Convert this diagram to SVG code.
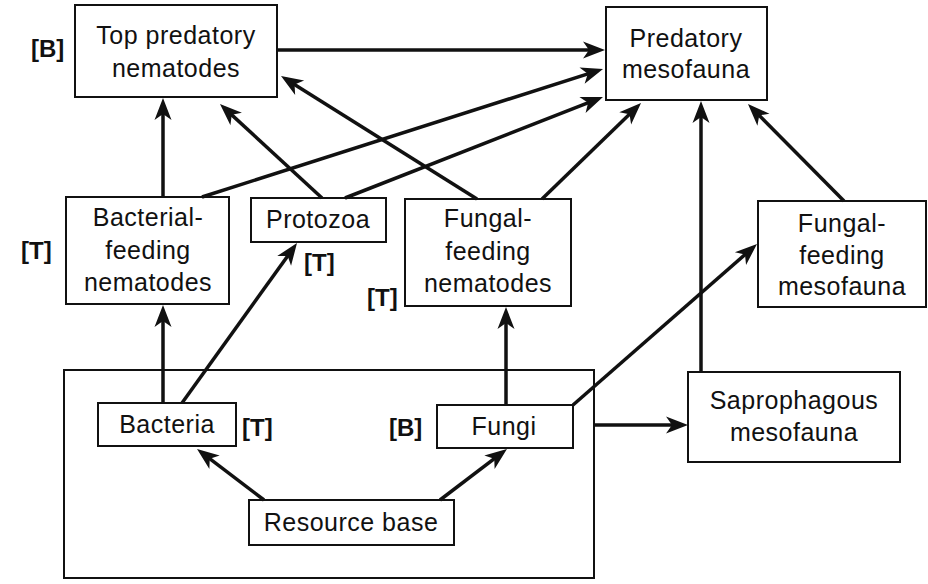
<svg xmlns="http://www.w3.org/2000/svg" width="928" height="584" viewBox="0 0 928 584">
<defs>
<marker id="ah" markerUnits="userSpaceOnUse" viewBox="-24 -10 26 20" refX="-6" refY="0" markerWidth="26" markerHeight="20" orient="auto">
<path d="M0,0 L-22,-8.5 L-16,0 L-22,8.5 Z" fill="#111"/>
</marker>
</defs>
<style>
.box{fill:#fff;stroke:#111;stroke-width:2}
.lbl{font-family:"Liberation Sans",Arial,sans-serif;font-size:25px;letter-spacing:0.5px;fill:#111;text-anchor:middle}
.tag{font-family:"Liberation Sans",Arial,sans-serif;font-size:24px;font-weight:bold;fill:#111}
.c line{stroke:#111;stroke-width:3.5;marker-end:url(#ah)}
</style>
<rect width="928" height="584" fill="#fff"/>
<g id="resource-compartment"><rect class="box" x="64" y="370" width="530" height="208" fill="none"/></g>
<g id="top-predatory-nematodes">
<rect class="box" x="75" y="5" width="202" height="92"/>
<text class="lbl" x="176" y="44">Top predatory</text>
<text class="lbl" x="176" y="77">nematodes</text>
<text class="tag" x="31" y="57">[B]</text>
</g>
<g id="predatory-mesofauna">
<rect class="box" x="606" y="7" width="161" height="93"/>
<text class="lbl" x="686" y="47">Predatory</text>
<text class="lbl" x="686" y="78">mesofauna</text>
</g>
<g id="bacterial-feeding-nematodes">
<rect class="box" x="66" y="197" width="163" height="107"/>
<text class="lbl" x="148" y="226">Bacterial-</text>
<text class="lbl" x="148" y="259">feeding</text>
<text class="lbl" x="148" y="291">nematodes</text>
<text class="tag" x="21" y="259">[T]</text>
</g>
<g id="protozoa">
<rect class="box" x="251" y="198" width="135" height="44"/>
<text class="lbl" x="318" y="228">Protozoa</text>
<text class="tag" x="304" y="271">[T]</text>
</g>
<g id="fungal-feeding-nematodes">
<rect class="box" x="405" y="199" width="166" height="107"/>
<text class="lbl" x="488" y="227">Fungal-</text>
<text class="lbl" x="488" y="260">feeding</text>
<text class="lbl" x="488" y="292">nematodes</text>
<text class="tag" x="367" y="306">[T]</text>
</g>
<g id="fungal-feeding-mesofauna">
<rect class="box" x="758" y="201" width="168" height="106"/>
<text class="lbl" x="842" y="232">Fungal-</text>
<text class="lbl" x="842" y="264">feeding</text>
<text class="lbl" x="842" y="295">mesofauna</text>
</g>
<g id="saprophagous-mesofauna">
<rect class="box" x="688" y="372" width="212" height="90"/>
<text class="lbl" x="794" y="409">Saprophagous</text>
<text class="lbl" x="794" y="441">mesofauna</text>
</g>
<g id="bacteria">
<rect class="box" x="98" y="403" width="138" height="43"/>
<text class="lbl" x="167" y="433">Bacteria</text>
<text class="tag" x="242" y="436">[T]</text>
</g>
<g id="fungi">
<rect class="box" x="437" y="405" width="136" height="43"/>
<text class="lbl" x="504" y="435">Fungi</text>
<text class="tag" x="389" y="436">[B]</text>
</g>
<g id="resource-base">
<rect class="box" x="249" y="500" width="205" height="45"/>
<text class="lbl" x="351" y="531">Resource base</text>
</g>
<g id="connectors" class="c">
<line x1="277" y1="50" x2="599" y2="50"/>
<line x1="202" y1="197" x2="597.3" y2="70.8"/>
<line x1="345" y1="198" x2="597.4" y2="99.2"/>
<line x1="163" y1="197" x2="163" y2="104"/>
<line x1="322" y1="198" x2="224.4" y2="108.1"/>
<line x1="477" y1="199" x2="286.1" y2="79.2"/>
<line x1="542" y1="199" x2="636.7" y2="107.2"/>
<line x1="701" y1="372" x2="701" y2="107"/>
<line x1="844" y1="201" x2="752.2" y2="108.3"/>
<line x1="163" y1="403" x2="163" y2="311"/>
<line x1="182" y1="403" x2="293.5" y2="247.9"/>
<line x1="506" y1="405" x2="506" y2="313"/>
<line x1="573" y1="405" x2="752.5" y2="248"/>
<line x1="594" y1="425" x2="682" y2="425"/>
<line x1="264" y1="500" x2="201.8" y2="452.6"/>
<line x1="440" y1="500" x2="502.2" y2="452.6"/>
</g>
</svg>
